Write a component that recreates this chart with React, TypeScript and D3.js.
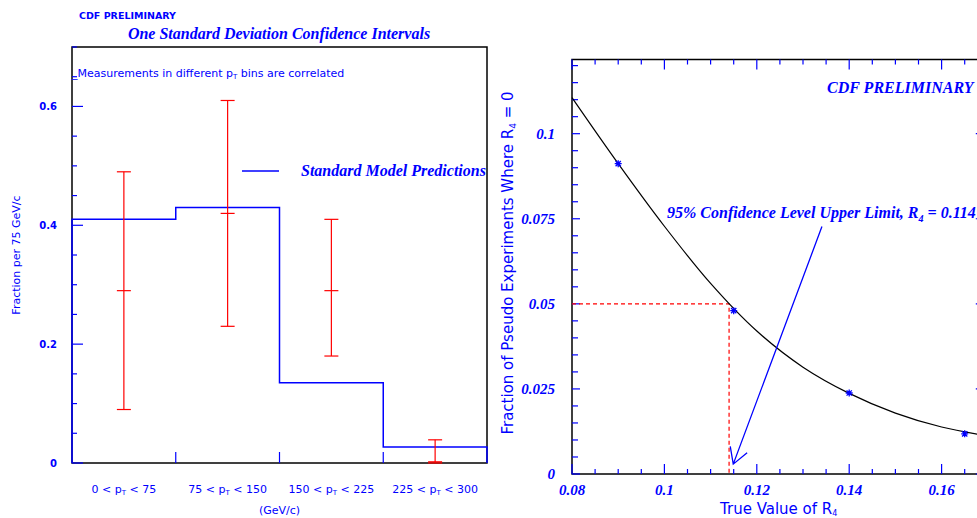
import React, { useEffect, useRef } from "react"
import * as d3 from "d3"

const W = 977
const H = 518
const BLUE = "#0000ff"
const RED = "#ff0000"
const SERIF = "'Liberation Serif', 'Times New Roman', serif"
const SANS = "'DejaVu Sans', Verdana, sans-serif"

// left panel: fraction per 75 GeV/c pT bin
const binEdges = [0, 75, 150, 225, 300]
const smPrediction = [0.41, 0.43, 0.135, 0.027]
const measCentral = [0.29, 0.42, 0.29, 0.002]
const measLow = [0.09, 0.23, 0.18, 0.0]
const measHigh = [0.49, 0.61, 0.41, 0.039]
const leftYTicks = [0, 0.2, 0.4, 0.6]

// right panel: fraction of pseudo experiments where R4 = 0
const pseudoR4 = [0.09, 0.115, 0.14, 0.165]
const pseudoFrac = [0.0912, 0.048, 0.0238, 0.0118]
const fitR4 = [0.08, 0.09, 0.1, 0.11, 0.12, 0.13, 0.14, 0.15, 0.16, 0.17]
const fitFrac = [0.1106, 0.0912, 0.0728, 0.056, 0.042, 0.0314, 0.0237, 0.0179, 0.0138, 0.0112]
const rightXTicks = [0.08, 0.1, 0.12, 0.14, 0.16]
const rightYTicks = [0, 0.025, 0.05, 0.075, 0.1]
const upperLimit = 0.114
const clLevel = 0.05
const arrowTail = [0.1341, 0.0727]
const arrowTip = [0.1149, 0.0029]

const isMultiple = (v: number, step: number) => Math.abs(v / step - Math.round(v / step)) < 1e-6

export default function App() {
  const ref = useRef<SVGSVGElement>(null)

  useEffect(() => {
    const svg = d3.select(ref.current)
    svg.selectAll("*").remove()

    // ---------------- left panel ----------------
    const xL = d3.scaleLinear().domain([0, 300]).range([72, 487])
    const yL = d3.scaleLinear().domain([0, 0.7]).range([463, 47])
    const left = svg.append("g")

    left.append("rect")
      .attr("x", xL(0)).attr("y", yL(0.7))
      .attr("width", xL(300) - xL(0)).attr("height", yL(0) - yL(0.7))
      .attr("fill", "none").attr("stroke", "#000").attr("stroke-width", 1.5)

    d3.range(0, 0.70001, 0.05).forEach(v => {
      const major = isMultiple(v, 0.2)
      left.append("line")
        .attr("x1", xL(0)).attr("x2", xL(0) + (major ? 11 : 5))
        .attr("y1", yL(v)).attr("y2", yL(v))
        .attr("stroke", BLUE).attr("stroke-width", 1.2)
    })
    binEdges.slice(1, -1).forEach(e => {
      left.append("line")
        .attr("x1", xL(e)).attr("x2", xL(e))
        .attr("y1", yL(0)).attr("y2", yL(0) - 11)
        .attr("stroke", BLUE).attr("stroke-width", 1.2)
    })

    leftYTicks.forEach(v => {
      left.append("text")
        .attr("x", 57).attr("y", yL(v) + 4)
        .attr("text-anchor", "end")
        .attr("font-family", SANS).attr("font-weight", "bold").attr("font-size", 10)
        .attr("fill", BLUE)
        .text(v === 0 ? "0" : String(v))
    })

    binEdges.slice(0, -1).forEach((a, i) => {
      const b = binEdges[i + 1]
      const t = left.append("text")
        .attr("x", xL((a + b) / 2)).attr("y", 493)
        .attr("text-anchor", "middle")
        .attr("font-family", SANS).attr("font-size", 11)
        .attr("fill", BLUE)
      t.append("tspan").text(`${a} < p`)
      t.append("tspan").attr("dy", 2).attr("font-size", 7).text("T")
      t.append("tspan").attr("dy", -2).text(` < ${b}`)
    })

    left.append("text")
      .attr("x", xL(150)).attr("y", 514)
      .attr("text-anchor", "middle")
      .attr("font-family", SANS).attr("font-size", 11)
      .attr("fill", BLUE)
      .text("(GeV/c)")

    left.append("text")
      .attr("transform", "translate(19.5,255) rotate(-90)")
      .attr("text-anchor", "middle")
      .attr("font-family", SANS).attr("font-size", 11)
      .attr("fill", BLUE)
      .text("Fraction per 75 GeV/c")

    // standard model histogram
    const histPts: [number, number][] = [[binEdges[0], 0]]
    smPrediction.forEach((v, i) => histPts.push([binEdges[i], v]))
    histPts.push([binEdges[binEdges.length - 1], smPrediction[smPrediction.length - 1]])
    histPts.push([binEdges[binEdges.length - 1], 0])
    const histLine = d3.line<[number, number]>()
      .x(d => xL(d[0]))
      .y(d => yL(d[1]))
      .curve(d3.curveStepAfter)
    left.append("path")
      .datum(histPts)
      .attr("fill", "none").attr("stroke", BLUE).attr("stroke-width", 1.5)
      .attr("d", histLine)

    // measurements with error bars
    measCentral.forEach((c, i) => {
      const cx = xL((binEdges[i] + binEdges[i + 1]) / 2)
      const g = left.append("g").attr("stroke", RED).attr("stroke-width", 1.2)
      g.append("line").attr("x1", cx).attr("x2", cx).attr("y1", yL(measLow[i])).attr("y2", yL(measHigh[i]))
      ;[measLow[i], c, measHigh[i]].forEach(v => {
        g.append("line").attr("x1", cx - 7).attr("x2", cx + 7).attr("y1", yL(v)).attr("y2", yL(v))
      })
    })

    // legend
    left.append("line")
      .attr("x1", 242).attr("x2", 279).attr("y1", 171).attr("y2", 171)
      .attr("stroke", BLUE).attr("stroke-width", 1.5)
    left.append("text")
      .attr("x", 301).attr("y", 176)
      .attr("font-family", SERIF).attr("font-weight", "bold").attr("font-style", "italic")
      .attr("font-size", 16).attr("fill", BLUE)
      .text("Standard Model Predictions")

    const note = left.append("text")
      .attr("x", 72).attr("y", 77)
      .attr("font-family", SANS).attr("font-size", 11)
      .attr("fill", BLUE)
    note.append("tspan").text("_Measurements in different p")
    note.append("tspan").attr("dy", 2).attr("font-size", 7).text("T")
    note.append("tspan").attr("dy", -2).text(" bins are correlated")

    left.append("text")
      .attr("x", 279).attr("y", 38.5)
      .attr("text-anchor", "middle")
      .attr("font-family", SERIF).attr("font-weight", "bold").attr("font-style", "italic")
      .attr("font-size", 16).attr("fill", BLUE)
      .text("One Standard Deviation Confidence Intervals")

    left.append("text")
      .attr("x", 79).attr("y", 18.5)
      .attr("font-family", SANS).attr("font-weight", "bold").attr("font-size", 9.5)
      .attr("fill", BLUE)
      .text("CDF PRELIMINARY")

    // ---------------- right panel ----------------
    const xR = d3.scaleLinear().domain([0.08, 0.17]).range([572, 987.8])
    const yR = d3.scaleLinear().domain([0, 0.1218]).range([474, 59.5])
    const right = svg.append("g")

    right.append("rect")
      .attr("x", xR(0.08)).attr("y", yR(0.1218))
      .attr("width", xR(0.17) - xR(0.08)).attr("height", yR(0) - yR(0.1218))
      .attr("fill", "none").attr("stroke", "#000").attr("stroke-width", 1.5)

    d3.range(0.08, 0.17001, 0.005).forEach(v => {
      const len = isMultiple(v, 0.02) ? 10 : 5
      right.append("line")
        .attr("x1", xR(v)).attr("x2", xR(v))
        .attr("y1", yR(0)).attr("y2", yR(0) - len)
        .attr("stroke", BLUE).attr("stroke-width", 1.2)
      right.append("line")
        .attr("x1", xR(v)).attr("x2", xR(v))
        .attr("y1", yR(0.1218)).attr("y2", yR(0.1218) + len)
        .attr("stroke", BLUE).attr("stroke-width", 1.2)
    })
    d3.range(0, 0.12001, 0.005).forEach(v => {
      const major = isMultiple(v, 0.025)
      right.append("line")
        .attr("x1", xR(0.08)).attr("x2", xR(0.08) + (major ? 8 : 6))
        .attr("y1", yR(v)).attr("y2", yR(v))
        .attr("stroke", BLUE).attr("stroke-width", 1.2)
      right.append("line")
        .attr("x1", xR(0.17)).attr("x2", xR(0.17) - (major ? 12 : 6))
        .attr("y1", yR(v)).attr("y2", yR(v))
        .attr("stroke", BLUE).attr("stroke-width", 1.2)
    })

    const serifBI = (sel: any, size: number) =>
      sel.attr("font-family", SERIF).attr("font-weight", "bold").attr("font-style", "italic")
        .attr("font-size", size).attr("fill", BLUE)

    rightXTicks.forEach(v => {
      serifBI(right.append("text"), 15)
        .attr("x", xR(v)).attr("y", 495)
        .attr("text-anchor", "middle")
        .text(String(+v.toFixed(3)))
    })
    rightYTicks.forEach(v => {
      serifBI(right.append("text"), 15)
        .attr("x", 555).attr("y", yR(v) + 5)
        .attr("text-anchor", "end")
        .text(String(+v.toFixed(3)))
    })

    const xt = right.append("text")
      .attr("x", 720).attr("y", 514)
      .attr("font-family", SANS).attr("font-size", 15)
      .attr("fill", BLUE)
    xt.append("tspan").text("True Value of R")
    xt.append("tspan").attr("dy", 2).attr("font-size", 8).text("4")

    const yt = right.append("text")
      .attr("transform", "translate(513,263) rotate(-90)")
      .attr("text-anchor", "middle")
      .attr("font-family", SANS).attr("font-size", 15)
      .attr("fill", BLUE)
    yt.append("tspan").text("Fraction of Pseudo Experiments Where R")
    yt.append("tspan").attr("dy", 3).attr("font-size", 9).text("4")
    yt.append("tspan").attr("dy", -3).text(" = 0")

    // 95% CL construction lines
    right.append("path")
      .attr("d", `M${xR(0.08)},${yR(clLevel)}H${xR(upperLimit)}V${yR(0)}`)
      .attr("fill", "none").attr("stroke", RED).attr("stroke-width", 1.2)
      .attr("stroke-dasharray", "4,3")

    // fitted curve
    const fitLine = d3.line<number>()
      .x((d, i) => xR(fitR4[i]))
      .y(d => yR(d))
      .curve(d3.curveCatmullRom)
    right.append("path")
      .datum(fitFrac)
      .attr("fill", "none").attr("stroke", "#000").attr("stroke-width", 1.2)
      .attr("d", fitLine)

    // pseudo-experiment points (asterisks)
    pseudoFrac.forEach((v, i) => {
      const px = xR(pseudoR4[i])
      const py = yR(v)
      const s = 3.5
      right.append("path")
        .attr("d", `M${px - s},${py}H${px + s}M${px},${py - s}V${py + s}M${px - s * 0.75},${py - s * 0.75}L${px + s * 0.75},${py + s * 0.75}M${px - s * 0.75},${py + s * 0.75}L${px + s * 0.75},${py - s * 0.75}`)
        .attr("stroke", BLUE).attr("stroke-width", 1.3).attr("fill", "none")
    })

    // annotation + arrow
    const ann = serifBI(right.append("text"), 16).attr("x", 667).attr("y", 218)
    ann.append("tspan").text("95% Confidence Level Upper Limit, R")
    ann.append("tspan").attr("dy", 4).attr("font-size", 10).text("4")
    ann.append("tspan").attr("dy", -4).text(` = ${upperLimit}`)

    const tx = xR(arrowTip[0]), ty = yR(arrowTip[1])
    const sx = xR(arrowTail[0]), sy = yR(arrowTail[1])
    const ang = Math.atan2(sy - ty, sx - tx)
    const wing = 18
    const w1 = [tx + wing * Math.cos(ang - Math.PI / 6), ty + wing * Math.sin(ang - Math.PI / 6)]
    const w2 = [tx + wing * Math.cos(ang + Math.PI / 6), ty + wing * Math.sin(ang + Math.PI / 6)]
    right.append("path")
      .attr("d", `M${sx},${sy}L${tx},${ty}M${w1[0]},${w1[1]}L${tx},${ty}L${w2[0]},${w2[1]}`)
      .attr("fill", "none").attr("stroke", BLUE).attr("stroke-width", 1.3)

    serifBI(right.append("text"), 16)
      .attr("x", 827).attr("y", 93)
      .text("CDF PRELIMINARY")
  }, [])

  return (
    <svg
      ref={ref}
      width={W}
      height={H}
      style={{ position: "absolute", left: 0, top: 0, background: "#fff" }}
    />
  )
}
